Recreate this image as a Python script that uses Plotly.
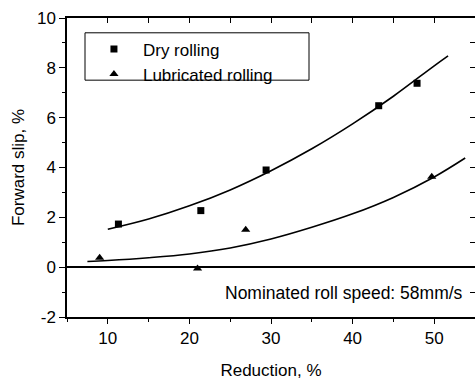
import plotly.graph_objects as go

# Measured forward slip vs. reduction
dry_x = [11.3, 21.4, 29.4, 43.2, 47.9]
dry_y = [1.73, 2.27, 3.90, 6.48, 7.38]

lub_x = [9.0, 21.0, 26.9, 49.7]
lub_y = [0.38, -0.05, 1.50, 3.63]

# Fitted trend curves
dry_fit_x = [10, 15, 20, 25, 30, 35, 40, 45, 50, 51.7]
dry_fit_y = [1.52, 1.93, 2.46, 3.10, 3.87, 4.75, 5.75, 6.86, 8.08, 8.48]

lub_fit_x = [7.5, 10, 15, 20, 25, 30, 35, 40, 45, 50, 53.8]
lub_fit_y = [0.23, 0.27, 0.38, 0.53, 0.77, 1.13, 1.60, 2.14, 2.80, 3.62, 4.38]

x_ticks = [10, 20, 30, 40, 50]
y_ticks = [-2, 0, 2, 4, 6, 8, 10]
y_tick_text = ["-2", "0", "2", "4", "6", "8", "10"]

FONT = "Arial, Liberation Sans, sans-serif"

fig = go.Figure()

fig.add_trace(go.Scatter(x=dry_fit_x, y=dry_fit_y, mode="lines",
                         line=dict(color="black", width=1.6, shape="spline"),
                         showlegend=False, hoverinfo="skip"))
fig.add_trace(go.Scatter(x=lub_fit_x, y=lub_fit_y, mode="lines",
                         line=dict(color="black", width=1.6, shape="spline"),
                         showlegend=False, hoverinfo="skip"))
fig.add_trace(go.Scatter(x=dry_x, y=dry_y, mode="markers", name="Dry rolling",
                         marker=dict(symbol="square", size=7, color="black")))
fig.add_trace(go.Scatter(x=lub_x, y=lub_y, mode="markers", name="Lubricated rolling",
                         marker=dict(symbol="triangle-up", size=8, color="black")))
# carrier trace for the top/right mirror axes
fig.add_trace(go.Scatter(x=[5], y=[-2], xaxis="x2", yaxis="y2", mode="markers",
                         marker=dict(opacity=0), showlegend=False, hoverinfo="skip"))

axis_font = dict(family=FONT, size=17, color="black")

fig.update_layout(
    width=475, height=380,
    margin=dict(l=67, r=0, t=18, b=59),
    paper_bgcolor="white", plot_bgcolor="white",
    font=axis_font,
    showlegend=True,
    legend=dict(x=0.044, y=0.955, xanchor="left", yanchor="top",
                bgcolor="rgba(0,0,0,0)", borderwidth=0,
                font=dict(family=FONT, size=17, color="black"),
                itemwidth=48, tracegroupgap=0),
    xaxis=dict(range=[5, 55], tickvals=x_ticks, ticks="outside", ticklen=5,
               tickwidth=1.2, tickcolor="black",
               minor=dict(dtick=5, tick0=5, ticks="outside", ticklen=3,
                          tickcolor="black", tickwidth=1),
               showline=True, linecolor="black", linewidth=1.5,
               showgrid=False, zeroline=False,
               tickfont=axis_font,
               title=dict(text="Reduction, %", font=axis_font, standoff=20)),
    yaxis=dict(range=[-2, 10], tickvals=y_ticks, ticktext=y_tick_text,
               ticks="outside", ticklen=6,
               tickwidth=1.2, tickcolor="black",
               minor=dict(dtick=1, tick0=0, ticks="outside", ticklen=3,
                          tickcolor="black", tickwidth=1),
               showline=True, linecolor="black", linewidth=1.5,
               showgrid=False, zeroline=True, zerolinecolor="black",
               zerolinewidth=1.5,
               tickfont=axis_font,
               title=dict(text="Forward slip, %", font=axis_font, standoff=8)),
    xaxis2=dict(range=[5, 55], overlaying="x", side="top", dtick=5, tick0=5,
                ticks="inside", ticklen=5, tickcolor="black", tickwidth=1.2,
                showticklabels=False, showline=True, linecolor="black",
                linewidth=1.5, showgrid=False, zeroline=False),
    yaxis2=dict(range=[-2, 10], overlaying="y", side="right", dtick=1, tick0=0,
                ticks="inside", ticklen=5, tickcolor="black", tickwidth=1.2,
                showticklabels=False, showline=False, showgrid=False,
                zeroline=False),
)

# legend frame
fig.add_shape(type="rect", xref="paper", yref="paper",
              x0=(85 - 67) / 408, x1=(309 - 67) / 408,
              y0=(321 - 81) / 303, y1=(321 - 33) / 303,
              line=dict(color="black", width=1), fillcolor="rgba(0,0,0,0)")

fig.add_annotation(x=53.8, y=-1.05, xref="x", yref="y", xanchor="right",
                   text="Nominated roll speed: 58mm/s", showarrow=False,
                   font=dict(family=FONT, size=17.5, color="black"))

fig.write_html("out.html")
